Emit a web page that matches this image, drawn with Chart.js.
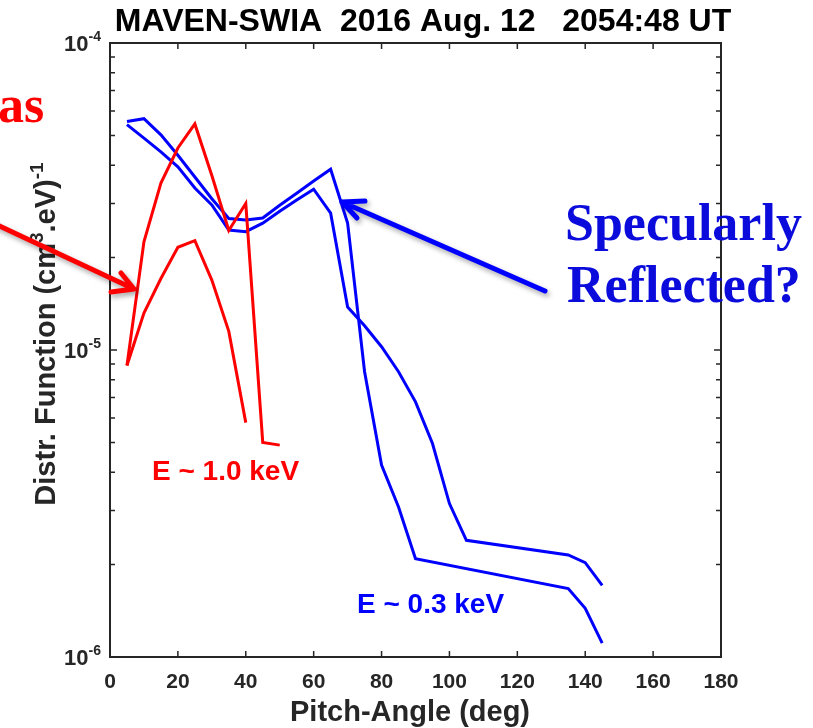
<!DOCTYPE html>
<html>
<head>
<meta charset="utf-8">
<script src="https://cdn.jsdelivr.net/npm/chart.js@4.4.0/dist/chart.umd.min.js"></script>
<style>
  html, body { margin: 0; padding: 0; background: #fff; }
  #wrap { position: relative; width: 813px; height: 728px; }
</style>
</head>
<body>
<div id="wrap"><canvas id="pitchChart"></canvas></div>
<script>
// E ~ 1.0 keV (red), two sweeps
const redA_angle = [5, 10, 15, 20, 25, 30, 35, 40, 45, 50];
const redA_flux  = [8.9e-6, 2.25e-5, 3.5e-5, 4.55e-5, 5.45e-5, 3.7e-5, 2.45e-5, 3.0e-5, 5.0e-6, 4.9e-6];
const redB_angle = [5, 10, 15, 20, 25, 30, 35, 40];
const redB_flux  = [8.9e-6, 1.32e-5, 1.71e-5, 2.16e-5, 2.27e-5, 1.69e-5, 1.15e-5, 5.8e-6];

// E ~ 0.3 keV (blue), two sweeps
const blueA_angle = [5, 10, 15, 20, 25, 30, 35, 40, 45, 50, 55, 60, 65, 70, 75, 80, 85, 90, 135, 140, 145];
const blueA_flux  = [5.55e-5, 5.67e-5, 5.02e-5, 4.31e-5, 3.66e-5, 3.11e-5, 2.68e-5, 2.65e-5, 2.69e-5,
                     2.96e-5, 3.24e-5, 3.55e-5, 3.88e-5, 2.59e-5, 8.5e-6, 4.22e-6, 3.08e-6, 2.09e-6,
                     1.67e-6, 1.44e-6, 1.11e-6];
const blueB_angle = [5, 10, 15, 20, 25, 30, 35, 40, 45, 50, 55, 60, 65, 70, 75, 80, 85, 90, 95, 100, 105, 135, 140, 145];
const blueB_flux  = [5.42e-5, 4.9e-5, 4.42e-5, 3.95e-5, 3.37e-5, 2.97e-5, 2.46e-5, 2.43e-5, 2.59e-5,
                     2.83e-5, 3.08e-5, 3.34e-5, 2.79e-5, 1.38e-5, 1.2e-5, 1.025e-5, 8.5e-6, 6.78e-6,
                     4.96e-6, 3.16e-6, 2.4e-6, 2.15e-6, 2.03e-6, 1.71e-6];

const xTicks = [0, 20, 40, 60, 80, 100, 120, 140, 160, 180];
const yDecades = [-6, -5, -4];

const toPoints = (xs, ys) => xs.map((x, i) => ({ x: x, y: ys[i] }));

const RED = '#ff0000';
const BLUE = '#0000ff';
const AXIS = '#262626';
const SANS = '"Liberation Sans", Arial, sans-serif';

const makeSet = (xs, ys, color) => ({
  data: toPoints(xs, ys),
  borderColor: color,
  borderWidth: 3,
  pointRadius: 0,
  tension: 0,
  fill: false
});

// text made of pieces, some of them raised (superscripts)
const pieceWidth = (ctx, pieces, font, supFont) => {
  let w = 0;
  pieces.forEach(p => {
    ctx.font = p.sup ? supFont : font;
    w += ctx.measureText(p.t).width;
  });
  return w;
};

const drawPieces = (ctx, pieces, x, y, font, supFont, rise) => {
  let cx = x;
  pieces.forEach(p => {
    ctx.font = p.sup ? supFont : font;
    ctx.fillText(p.t, cx, p.sup ? y - rise : y);
    cx += ctx.measureText(p.t).width;
  });
};

const arrow = (ctx, from, tip, h1, h2, color, width) => {
  ctx.save();
  ctx.strokeStyle = color;
  ctx.lineWidth = width;
  ctx.lineCap = 'round';
  ctx.lineJoin = 'round';
  ctx.shadowColor = 'rgba(0,0,0,0.35)';
  ctx.shadowBlur = 5;
  ctx.shadowOffsetX = 2;
  ctx.shadowOffsetY = 3;
  ctx.beginPath();
  ctx.moveTo(from[0], from[1]);
  ctx.lineTo(tip[0], tip[1]);
  ctx.moveTo(h1[0], h1[1]);
  ctx.lineTo(tip[0], tip[1]);
  ctx.lineTo(h2[0], h2[1]);
  ctx.stroke();
  ctx.restore();
};

const frame = {
  id: 'frame',
  afterDatasetsDraw(chart) {
    const ctx = chart.ctx;
    const a = chart.chartArea;
    const xs = chart.scales.x;
    const ys = chart.scales.y;
    ctx.save();

    // box
    ctx.strokeStyle = AXIS;
    ctx.lineWidth = 2;
    ctx.strokeRect(a.left, a.top, a.right - a.left, a.bottom - a.top);

    // inward ticks, x
    ctx.lineWidth = 1.5;
    ctx.beginPath();
    xTicks.forEach(v => {
      const px = xs.getPixelForValue(v);
      ctx.moveTo(px, a.bottom); ctx.lineTo(px, a.bottom - 6);
      ctx.moveTo(px, a.top); ctx.lineTo(px, a.top + 6);
    });
    // inward ticks, y (log minor)
    for (let e = yDecades[0]; e < yDecades[yDecades.length - 1]; e++) {
      for (let m = 1; m < 10; m++) {
        const py = ys.getPixelForValue(m * Math.pow(10, e));
        const len = m === 1 ? 7 : 5;
        ctx.moveTo(a.left, py); ctx.lineTo(a.left + len, py);
        ctx.moveTo(a.right, py); ctx.lineTo(a.right - len, py);
      }
    }
    ctx.stroke();

    // x tick labels
    ctx.fillStyle = AXIS;
    ctx.textBaseline = 'alphabetic';
    ctx.textAlign = 'center';
    ctx.font = 'bold 21px ' + SANS;
    xTicks.forEach(v => {
      ctx.fillText(String(v), xs.getPixelForValue(v), a.bottom + 31);
    });

    // y tick labels 10^n
    ctx.textAlign = 'left';
    const f = 'bold 22px ' + SANS;
    const sf = 'bold 14px ' + SANS;
    yDecades.forEach(e => {
      const py = ys.getPixelForValue(Math.pow(10, e));
      const pieces = [{ t: '10' }, { t: '-' + Math.abs(e), sup: true }];
      const w = pieceWidth(ctx, pieces, f, sf);
      drawPieces(ctx, pieces, a.left - 9 - w, py + 8, f, sf, 10);
    });

    // y axis title
    const tf = 'bold 29px ' + SANS;
    const tsf = 'bold 19px ' + SANS;
    const yt = [{ t: 'Distr. Function (cm' }, { t: '3', sup: true }, { t: '.eV)' }, { t: '-1', sup: true }];
    ctx.save();
    ctx.translate(55, 334);
    ctx.rotate(-Math.PI / 2);
    const yw = pieceWidth(ctx, yt, tf, tsf);
    drawPieces(ctx, yt, -yw / 2, 0, tf, tsf, 12);
    ctx.restore();

    // x axis title
    ctx.font = tf;
    ctx.textAlign = 'center';
    ctx.fillText('Pitch-Angle (deg)', 410, 721);

    // main title
    ctx.fillStyle = '#000';
    ctx.font = 'bold 32px ' + SANS;
    ctx.fillText('MAVEN-SWIA  2016 Aug. 12   2054:48 UT', 423, 31);

    // energy labels
    ctx.textAlign = 'left';
    ctx.font = 'bold 28px ' + SANS;
    ctx.fillStyle = RED;
    ctx.fillText('E ~ 1.0 keV', 152, 480);
    ctx.fillStyle = BLUE;
    ctx.fillText('E ~ 0.3 keV', 357, 613);

    // arrows
    arrow(ctx, [-5, 224], [134, 289], [111, 292], [121, 273], RED, 5);
    arrow(ctx, [545, 291], [342, 202], [365, 201], [357, 218], BLUE, 5);

    // annotation text
    ctx.font = 'bold 52px "Liberation Serif", "Times New Roman", serif';
    ctx.fillStyle = '#0b0bdc';
    ctx.fillText('Specularly', 565, 240);
    ctx.fillText('Reflected?', 567, 302);
    ctx.fillStyle = RED;
    ctx.fillText('as', -2, 122);

    ctx.restore();
  }
};

new Chart(document.getElementById('pitchChart'), {
  type: 'line',
  data: {
    datasets: [
      makeSet(redA_angle, redA_flux, RED),
      makeSet(redB_angle, redB_flux, RED),
      makeSet(blueA_angle, blueA_flux, BLUE),
      makeSet(blueB_angle, blueB_flux, BLUE)
    ]
  },
  options: {
    responsive: true,
    maintainAspectRatio: false,
    animation: false,
    layout: { padding: { top: 43, right: 92, left: 0, bottom: 0 } },
    plugins: { legend: { display: false }, tooltip: { enabled: false } },
    scales: {
      x: {
        type: 'linear',
        min: 0,
        max: 180,
        afterFit: s => { s.height = 71; },
        grid: { display: false, drawTicks: false },
        border: { display: false },
        ticks: { display: false }
      },
      y: {
        type: 'logarithmic',
        min: 1e-6,
        max: 1e-4,
        afterFit: s => { s.width = 110; },
        grid: { display: false, drawTicks: false },
        border: { display: false },
        ticks: { display: false }
      }
    }
  },
  plugins: [frame]
});
</script>
</body>
</html>
